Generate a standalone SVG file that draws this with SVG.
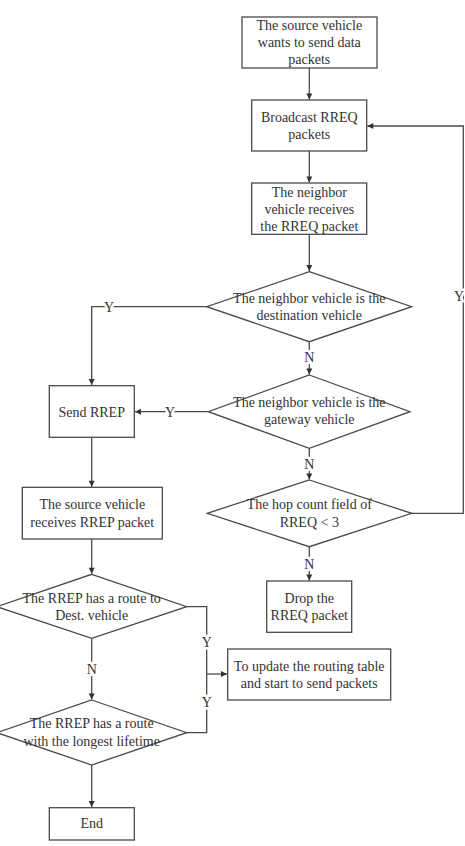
<svg xmlns="http://www.w3.org/2000/svg" width="465" height="846" viewBox="0 0 465 846">
<style>
.n rect,.n polygon{fill:#fff;stroke:#4a4a4a;stroke-width:1.3}
text{font-family:"Liberation Serif","Times New Roman",serif;font-size:14px;fill:#333;text-anchor:middle}
.c path{fill:none;stroke:#4a4a4a;stroke-width:1.3}
.lbl{paint-order:stroke;stroke:#fff;stroke-width:5px;stroke-linejoin:round}
</style>
<defs>
<marker id="ah" markerWidth="8" markerHeight="8" refX="7" refY="4" orient="auto" markerUnits="userSpaceOnUse">
<path d="M1,1 L7,4 L1,7 Z" fill="#333"/>
</marker>
</defs>
<rect width="465" height="846" fill="#fff"/>
<g class="c" id="connectors">
<path d="M309.3,68 V99.5" marker-end="url(#ah)"/>
<path d="M309.3,151 V182.5" marker-end="url(#ah)"/>
<path d="M309.3,234.3 V271" marker-end="url(#ah)"/>
<path d="M309.3,341.7 V374.5" marker-end="url(#ah)"/>
<path d="M309.3,448.3 V479.5" marker-end="url(#ah)"/>
<path d="M309.3,546.7 V580.5" marker-end="url(#ah)"/>
<path d="M206.7,306.7 H91.7 V385" marker-end="url(#ah)"/>
<path d="M208.3,411.7 H135" marker-end="url(#ah)"/>
<path d="M411.7,513.3 H463.3 V126 H367.3" marker-end="url(#ah)"/>
<path d="M91.7,437.3 V486.7" marker-end="url(#ah)"/>
<path d="M91.7,539 V573.7" marker-end="url(#ah)"/>
<path d="M91.7,638.3 V699.5" marker-end="url(#ah)"/>
<path d="M91.7,765 V807" marker-end="url(#ah)"/>
<path d="M186.7,606.7 H206.7 V732.7 H186.7"/>
<path d="M206.7,674 H227" marker-end="url(#ah)"/>
<text class="lbl" x="109" y="311.7">Y</text>
<text class="lbl" x="309.3" y="361.7">N</text>
<text class="lbl" x="170" y="416.7">Y</text>
<text class="lbl" x="309.3" y="469">N</text>
<text class="lbl" x="309.3" y="569.3">N</text>
<text class="lbl" x="459" y="301">Y</text>
<text class="lbl" x="206.7" y="646.7">Y</text>
<text class="lbl" x="206.7" y="706.7">Y</text>
<text class="lbl" x="91.7" y="674.3">N</text>
</g>
<g class="n" id="start">
<rect x="242" y="17" width="135" height="51"/>
<text x="309.3" y="30">The source vehicle</text>
<text x="309.3" y="47">wants to send data</text>
<text x="309.3" y="64">packets</text>
</g>
<g class="n" id="broadcast">
<rect x="251.7" y="100" width="115" height="51"/>
<text x="309.3" y="122">Broadcast RREQ</text>
<text x="309.3" y="139">packets</text>
</g>
<g class="n" id="receive">
<rect x="251.7" y="183" width="115" height="51.3"/>
<text x="309.3" y="197">The neighbor</text>
<text x="309.3" y="213.5">vehicle receives</text>
<text x="309.3" y="230.5">the RREQ packet</text>
</g>
<g class="n" id="isdest">
<polygon points="309.3,271.7 411.7,306.7 309.3,341.7 206.7,306.7"/>
<text x="309.3" y="303">The neighbor vehicle is the</text>
<text x="309.3" y="320">destination vehicle</text>
</g>
<g class="n" id="isgateway">
<polygon points="309.3,375 410,411.7 309.3,448.3 208.3,411.7"/>
<text x="309.3" y="406.7">The neighbor vehicle is the</text>
<text x="309.3" y="424.3">gateway vehicle</text>
</g>
<g class="n" id="hopcount">
<polygon points="309.3,480 411.7,513.3 309.3,546.7 207.3,513.3"/>
<text x="309.3" y="509.3">The hop count field of</text>
<text x="309.3" y="526.7">RREQ &lt; 3</text>
</g>
<g class="n" id="drop">
<rect x="266.7" y="581" width="85" height="51.3"/>
<text x="309.3" y="602.7">Drop the</text>
<text x="309.3" y="620">RREQ packet</text>
</g>
<g class="n" id="sendrrep">
<rect x="49.3" y="385.7" width="85" height="51.6"/>
<text x="91.7" y="416.7">Send RREP</text>
</g>
<g class="n" id="srcreceives">
<rect x="22.3" y="487.3" width="140" height="51.7"/>
<text x="92.3" y="509.3">The source vehicle</text>
<text x="92.3" y="526.7">receives RREP packet</text>
</g>
<g class="n" id="hasroute">
<polygon points="91.7,574.3 186.7,606.7 91.7,638.3 -3,606.7"/>
<text x="91.7" y="602.7">The RREP has a route to</text>
<text x="91.7" y="620">Dest. vehicle</text>
</g>
<g class="n" id="longest">
<polygon points="91.7,700 186.7,732.7 91.7,765 -3,732.7"/>
<text x="91.7" y="728.3">The RREP has a route</text>
<text x="91.7" y="745.7">with the longest lifetime</text>
</g>
<g class="n" id="update">
<rect x="227.7" y="649" width="163" height="51"/>
<text x="309.2" y="670.7">To update the routing table</text>
<text x="309.2" y="687.7">and start to send packets</text>
</g>
<g class="n" id="end">
<rect x="49.3" y="807.7" width="85" height="32.3"/>
<text x="91.7" y="828.3">End</text>
</g>
</svg>
